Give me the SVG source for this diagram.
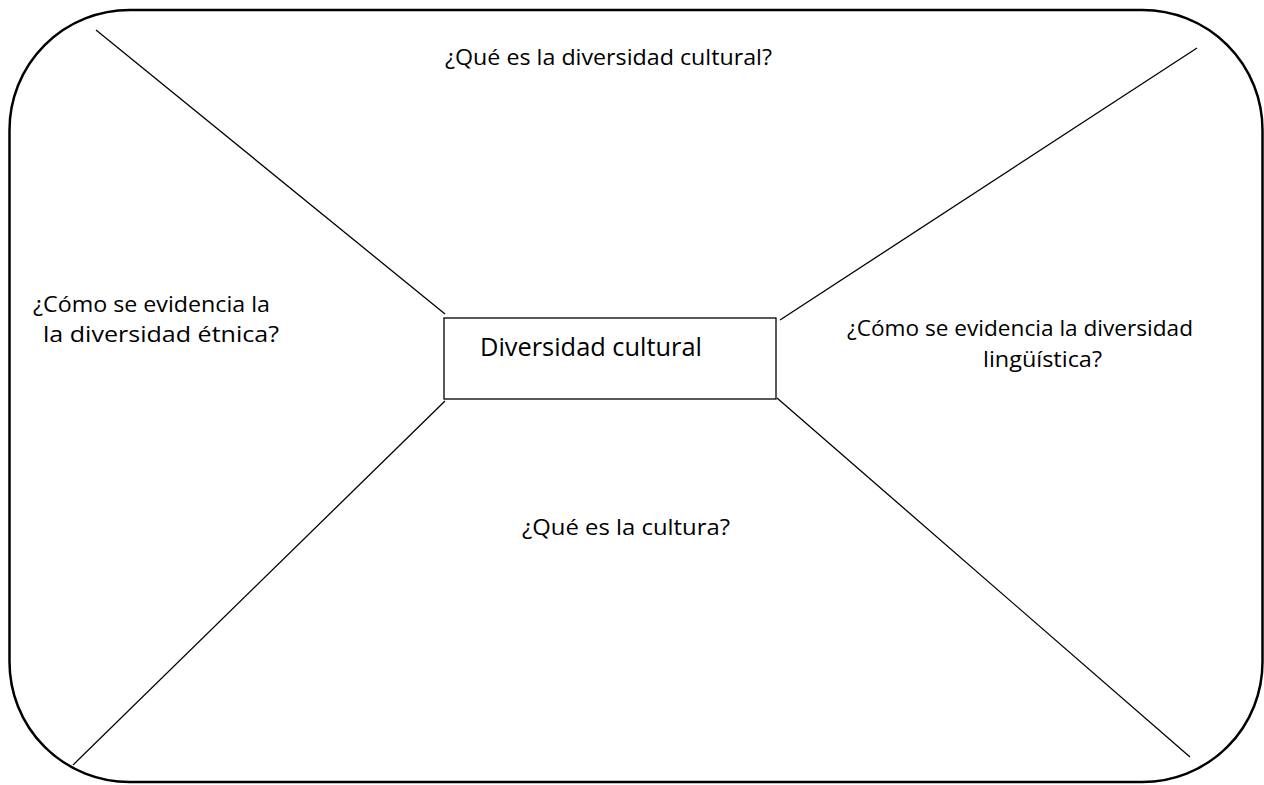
<svg xmlns="http://www.w3.org/2000/svg" width="1264" height="785" viewBox="0 0 1264 785">
<style>
.t{font-family:"Open Sans","Liberation Sans",Arial,sans-serif;font-size:21px;fill:#000}
.c{font-size:25px}
.ln{stroke:#000;stroke-width:1.3;fill:none}
</style>
<rect width="1264" height="785" fill="#fff"/>
<g id="frame"><rect x="9.5" y="10" width="1253" height="772" rx="120" ry="120" fill="none" stroke="#000" stroke-width="2.5"/></g>
<g id="connectors">
<line class="ln" x1="96" y1="30" x2="445" y2="314"/>
<line class="ln" x1="1197" y1="48" x2="780" y2="320"/>
<line class="ln" x1="73" y1="765" x2="445" y2="401"/>
<line class="ln" x1="1190" y1="757" x2="777" y2="398"/>
</g>
<g id="center"><rect x="444" y="318" width="332" height="81" fill="#fff" stroke="#000" stroke-width="1.3"/>
<text class="t c" x="480" y="356" textLength="222" lengthAdjust="spacingAndGlyphs">Diversidad cultural</text></g>
<g id="top"><text class="t" x="445" y="65" textLength="327" lengthAdjust="spacingAndGlyphs">¿Qué es la diversidad cultural?</text></g>
<g id="left"><text class="t" x="33" y="312" textLength="237" lengthAdjust="spacingAndGlyphs">¿Cómo se evidencia la</text>
<text class="t" x="43" y="342" textLength="236" lengthAdjust="spacingAndGlyphs">la diversidad étnica?</text></g>
<g id="right"><text class="t" x="847" y="336" textLength="346" lengthAdjust="spacingAndGlyphs">¿Cómo se evidencia la diversidad</text>
<text class="t" x="983" y="367" textLength="119" lengthAdjust="spacingAndGlyphs">lingüística?</text></g>
<g id="bottom"><text class="t" x="522" y="535" textLength="208" lengthAdjust="spacingAndGlyphs">¿Qué es la cultura?</text></g>
</svg>
